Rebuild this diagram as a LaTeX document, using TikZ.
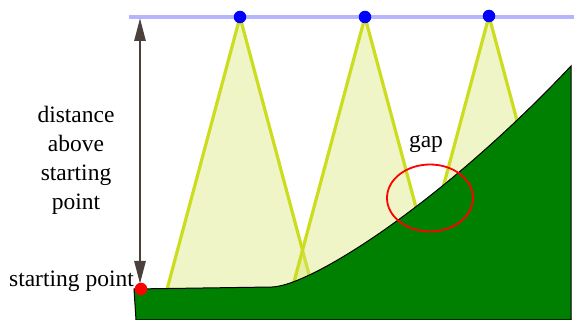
\documentclass[tikz,border=0pt]{standalone}
\usepackage{fontspec}
\setmainfont{Liberation Serif}
\usetikzlibrary{arrows.meta}
\definecolor{skyline}{RGB}{180,180,255}
\definecolor{conefill}{RGB}{218,230,118}
\definecolor{coneline}{RGB}{204,220,30}
\definecolor{ground}{RGB}{0,128,0}
\definecolor{arrowc}{RGB}{74,64,60}
\begin{document}
\begin{tikzpicture}[x=1pt,y=-1pt,
  bluedot/.style={circle,fill=blue,inner sep=0pt,minimum size=12.5pt},
  reddot/.style={circle,fill=red,inner sep=0pt,minimum size=12.5pt},
  conearea/.style={fill=conefill,opacity=0.4},
  coneedge/.style={draw=coneline,line width=3.2pt,line join=round},
  lbl/.style={font=\fontsize{23.5}{29}\selectfont,inner sep=0pt,text=black}]
\useasboundingbox (0,0) rectangle (574,320);
% sky line
\draw[skyline,line width=3.2pt] (129,17) -- (574,17);
% apex coordinates
\coordinate (a1) at (240,17);
\coordinate (a2) at (365,17);
\coordinate (a3) at (489,16);
% cones
\foreach \a/\x/\y in {a1/240/17,a2/365/17,a3/489/16}{
  \pgfmathsetmacro{\hw}{0.268*(320-\y)}
  \fill[conearea] (\a) -- (\x-\hw,320) -- (\x+\hw,320) -- cycle;
  \draw[coneedge] (\x-\hw,320) -- (\a) -- (\x+\hw,320);
}
% ground
\draw[fill=ground,draw=black,line width=1pt]
  (134,289) -- (272,287) .. controls (310,286) and (440,205) .. (571,66)
  -- (571,320) -- (136,320) -- cycle;
% dots
\node[bluedot] (d1) at (a1) {};
\node[bluedot] (d2) at (a2) {};
\node[bluedot] (d3) at (a3) {};
\node[reddot] (sp) at (141,289) {};
% measuring arrow
\coordinate (top) at (140,18);
\coordinate (bot) at (140,284);
\draw[arrowc,line width=2.8pt,{Triangle[length=23pt,width=11pt]}-{Triangle[length=23pt,width=11pt]}] (top) -- (bot);
% labels
\node[lbl,anchor=base east] (splabel) at (134,287) {starting point};
\node[lbl,align=center,anchor=center] (dist) at (76,160) {distance\\above\\starting\\point};
\node[lbl,anchor=base] (gap) at (426,148) {gap};
% gap ring
\draw[red,line width=1.8pt] (430,198) ellipse [x radius=43,y radius=33.5];
\end{tikzpicture}
\end{document}
